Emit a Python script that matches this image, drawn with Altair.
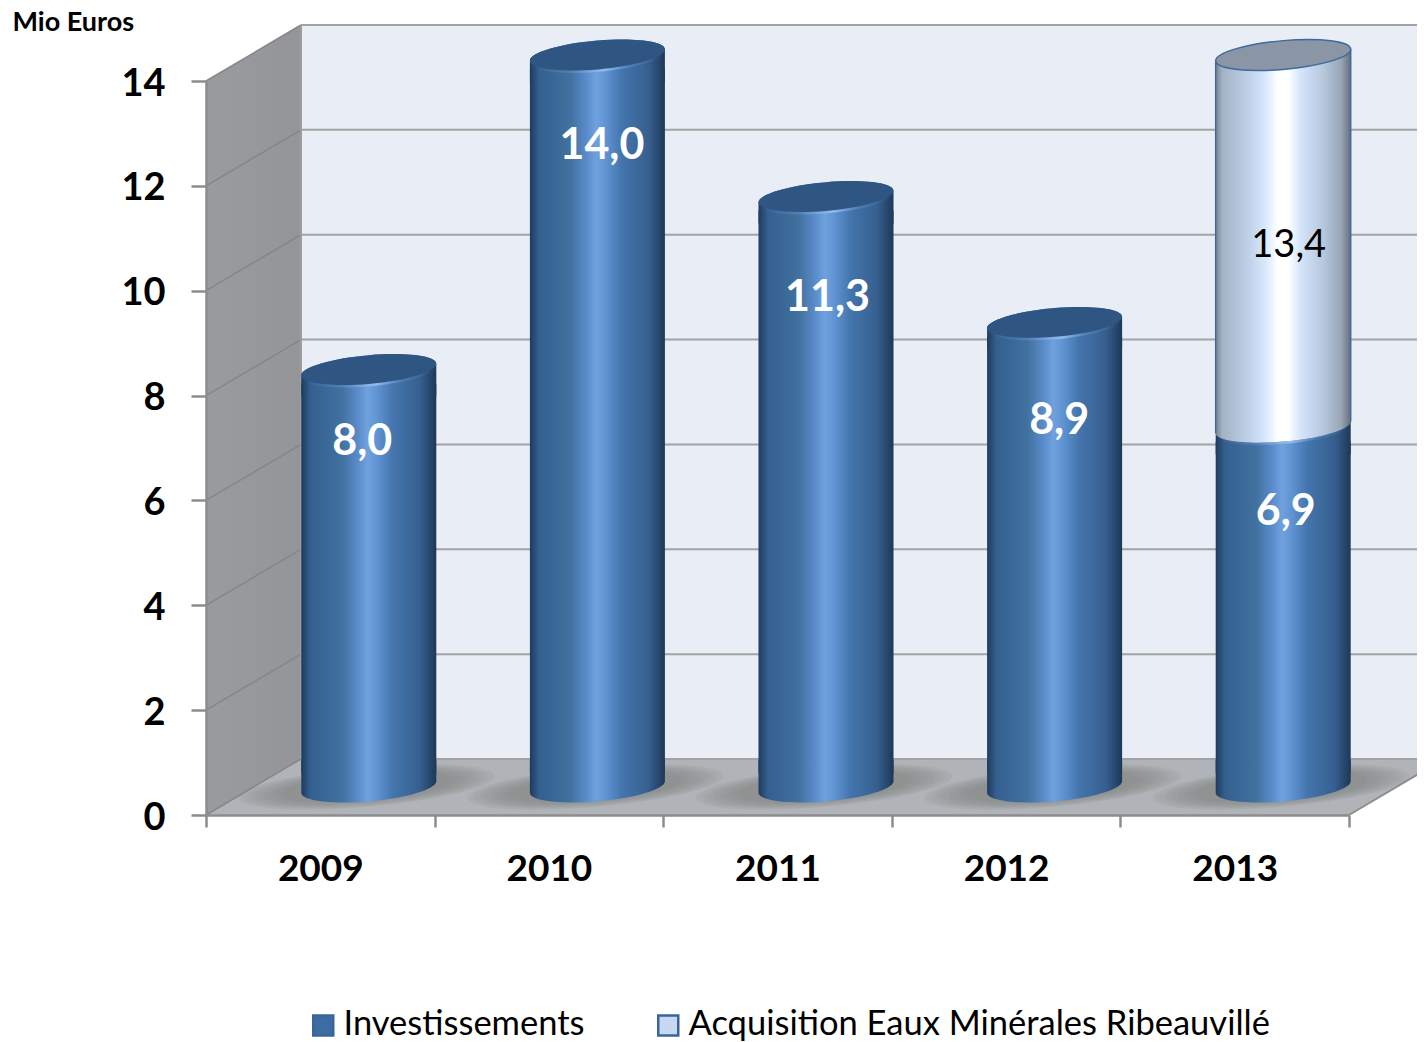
import altair as alt
import pandas as pd

# ---- data
years = ["2009", "2010", "2011", "2012", "2013"]
invest = [8.0, 14.0, 11.3, 8.9, 6.9]
acquis = [0, 0, 0, 0, 7.1]          # drawn height of the light section
label_texts = ["8,0", "14,0", "11,3", "8,9", "6,9", "13,4"]
label_years = ["2009", "2010", "2011", "2012", "2013", "2013"]
label_vals = [8.0, 14.0, 11.3, 8.9, 6.9, 14.0]
y_ticks = [0, 2, 4, 6, 8, 10, 12, 14]
series_names = ["Investissements", "Acquisition Eaux Minérales Ribeauvillé"]

# ---- styling / geometry constants
PW, PH = 1143, 734
FONT = "Lato"
STEP = PW / 5
DX = 95 / STEP                # wall depth, category units
DY = 56 / (PH / 14)           # wall depth, value units
XEND = 5 + 75 / STEP
CX, CY = 48.5, -26            # cylinder shift in pixels
R = 67.5                      # cylinder radius
EB, ES = 0.213, -0.085        # ellipse minor axis and shear
LBL_OFF = [(42, 46, "white", "bold"), (53, 65, "white", "bold"), (50, 75, "white", "bold"),
           (53, 73, "white", "bold"), (51, 59, "white", "bold"), (54, 165, "black", "normal")]
SHADOW_STEPS = [128, 122, 116, 110, 104, 98, 92, 86]   # half widths of the nested shadow ellipses

K = 0.5523


def m(u, v, b=EB, s=ES):
    return f"{u:.4f} {s * u + b * v:.4f}"


def ell_path(b=EB, s=ES):
    f = lambda u, v: m(u, v, b, s)
    return (f"M {f(1,0)} C {f(1,K)} {f(K,1)} {f(0,1)} C {f(-K,1)} {f(-1,K)} {f(-1,0)} "
            f"C {f(-1,-K)} {f(-K,-1)} {f(0,-1)} C {f(K,-1)} {f(1,-K)} {f(1,0)} Z")


CAP_H = 0.4
bottom_cap = (f"M {m(-1,0)} L -1 {-CAP_H} L 1 {-CAP_H} L {m(1,0)} "
              f"C {m(1,K)} {m(K,1)} {m(0,1)} C {m(-K,1)} {m(-1,K)} {m(-1,0)} Z")
top_cap = (f"M {m(-1,0)} C {m(-1,-K)} {m(-K,-1)} {m(0,-1)} C {m(K,-1)} {m(1,-K)} {m(1,0)} "
           f"L 1 {CAP_H} L -1 {CAP_H} Z")
SZ = (2 * R) ** 2


def grad(stops):
    return alt.Gradient(gradient="linear", x1=0, x2=1, y1=0, y2=0,
                        stops=[alt.GradientStop(offset=o, color=c) for o, c in stops])


BLUE = grad([(0, "#1f3b5e"), (0.07, "#34608f"), (0.3, "#41719f"), (0.42, "#5a8ccb"), (0.49, "#70a1de"),
             (0.56, "#6094d2"), (0.68, "#4475ad"), (0.88, "#365f8f"), (1, "#1d3858")])
LIGHT = grad([(0, "#78838f"), (0.05, "#a3b3c6"), (0.25, "#bfd2e9"), (0.37, "#d8e9ff"), (0.46, "#ffffff"),
              (0.54, "#ffffff"), (0.63, "#d4e4fb"), (0.8, "#b6c7dc"), (0.93, "#98a5b6"), (1, "#666f7b")])
RIM = grad([(0, "rgba(110,153,207,0)"), (0.3, "rgba(110,153,207,0.35)"), (0.55, "rgba(150,190,240,0.95)"),
            (0.75, "rgba(110,153,207,0.3)"), (1, "rgba(110,153,207,0)")])
WALL_GRAD = grad([(0, "#9a9b9e"), (1, "#949598")])

# ---- tables
cols = pd.DataFrame({"year": years, "inv": invest, "acq": acquis})
bars = pd.DataFrame(
    [{"year": y, "series": series_names[0], "y0": 0, "y1": v} for y, v in zip(years, invest)]
    + [{"year": y, "series": series_names[1], "y0": v, "y1": v + a}
       for y, v, a in zip(years, invest, acquis) if a > 0]
)
dark = bars[bars.series == series_names[0]]
light = bars[bars.series == series_names[1]]
grid = pd.DataFrame({"v": y_ticks})

Y_AXIS = alt.Axis(
    title="Mio Euros", titleAngle=0, titleX=-194, titleY=-59, titleAlign="left", titleBaseline="middle",
    titleFont=FONT, titleFontSize=27, titleFontWeight="bold", titleColor="black",
    values=y_ticks, grid=False, format="d", labelFont=FONT, labelFontSize=38, labelFontWeight="bold",
    labelColor="black", labelPadding=26, labelOffset=3, tickSize=15, tickWidth=2.5, tickColor="#8c8c8c",
    domainColor="#8c8c8c", domainWidth=2.5, zindex=1, labelFlush=False, labelOverlap=False)
Y_SCALE = alt.Scale(domain=[0, 14], nice=False, zero=False)
X_Q = lambda f="x": alt.X(f"{f}:Q", scale=alt.Scale(domain=[0, 5], nice=False, zero=False), axis=None)
Y_ANY = lambda f: alt.Y(f"{f}:Q", scale=Y_SCALE, axis=Y_AXIS)
X_N = alt.X("year:N", scale=alt.Scale(domain=years, paddingInner=0, paddingOuter=0), axis=None)

# walls
back = alt.Chart(pd.DataFrame({"x": [DX], "x2": [XEND], "a": [DY], "b": [14 + DY]})).mark_rect(color="#e9edf6").encode(
    x=X_Q(), x2="x2:Q", y=Y_ANY("a"), y2="b:Q")
side = alt.Chart(pd.DataFrame({"x": [0, DX], "lo": [0, DY], "hi": [14, 14 + DY]})).mark_area(
    fill=WALL_GRAD, opacity=1, line=False).encode(x=X_Q(), y=Y_ANY("lo"), y2="hi:Q")
floor = alt.Chart(pd.DataFrame({"x": [0, DX, 5, XEND],
                                "lo": [0, 0, 0, DY * (XEND - 5) / DX],
                                "hi": [0, DY, DY, DY]})).mark_area(color="#b0b3b7", opacity=1).encode(
    x=X_Q(), y=Y_ANY("lo"), y2="hi:Q")

g = grid.assign(x=DX, x2=XEND, w=grid.v + DY)
back_grid = alt.Chart(g).mark_rule(color="#a3a3a3", strokeWidth=2).encode(x=X_Q(), x2="x2:Q", y=Y_ANY("w"))
d = grid.assign(x=0, x2=DX, w=grid.v + DY)
side_grid = alt.Chart(d).mark_rule(color="#85868a", strokeWidth=1.5).encode(x=X_Q(), x2="x2:Q", y=Y_ANY("v"), y2="w:Q")
corner = alt.Chart(pd.DataFrame({"x": [DX], "lo": [DY], "hi": [14 + DY]})).mark_rule(color="#9d9d9d", strokeWidth=2).encode(
    x=X_Q(), y=Y_ANY("lo"), y2="hi:Q")
edge = alt.Chart(pd.DataFrame({"x": [5], "x2": [XEND], "lo": [0], "hi": [DY * (XEND - 5) / DX]})).mark_rule(
    color="#8c8c8c", strokeWidth=2).encode(x=X_Q(), x2="x2:Q", y=Y_ANY("lo"), y2="hi:Q")

# x axis carrier
x_axis = alt.Chart(cols).mark_bar(width=1, opacity=0).encode(
    x=alt.X("year:N", scale=alt.Scale(domain=years, paddingInner=0, paddingOuter=0), axis=alt.Axis(
        title=None, labelAngle=0, tickBand="extent", labelFont=FONT, labelFontSize=37, labelFontWeight="bold",
        labelColor="black", labelPadding=24, tickSize=12, tickWidth=2.5, tickColor="#8c8c8c",
        domainColor="#8c8c8c", domainWidth=2.5, zindex=1)),
    y=Y_ANY("y0"), y2="y0:Q",
).transform_calculate(y0="0")

# floor shadows: nested translucent ellipses give a soft falloff
shadows = [
    alt.Chart(cols).mark_point(shape=ell_path(0.155, -0.085), size=(2 * a) ** 2, filled=True, fill="#7d8184",
                               opacity=0.11, strokeWidth=0, xOffset=CX - 2, yOffset=-28).encode(
        x=X_N, y=Y_ANY("base")).transform_calculate(base="0")
    for a in SHADOW_STEPS
]

# solid bars: carry the colour legend
solid = alt.Chart(bars).mark_bar(width=2 * R - 4, xOffset=CX, yOffset=CY + 10, y2Offset=CY - 10).encode(
    x=X_N, y=Y_ANY("y1"), y2="y0:Q",
    color=alt.Color("series:N", scale=alt.Scale(domain=series_names, range=["#3d6ca3", "#c6d9f1"]),
                    legend=alt.Legend(title=None, orient="none", legendX=100, legendY=927, direction="horizontal",
                                      symbolType="square", symbolSize=400, symbolStrokeWidth=2.5,
                                      symbolStrokeColor="#3a659a", labelFont=FONT, labelFontSize=34.5,
                                      labelColor="black", labelOffset=3, columnPadding=66, labelLimit=800)),
)


def cylinder(df, fill, face, edge_col=None):
    ys, yb = Y_ANY("y1"), Y_ANY("y0")
    base = alt.Chart(df)
    body = base.mark_bar(width=2 * R, fill=fill, xOffset=CX, yOffset=CY + 14, y2Offset=CY - 16).encode(
        x=X_N, y=ys, y2="y0:Q")
    pt = dict(filled=True, opacity=1, xOffset=CX, size=SZ)
    # the cap of a section resting on the floor sits 2px higher, matching the reference
    bcap_off = CY - 2 if edge_col is None else CY
    bcap = base.mark_point(shape=bottom_cap, fill=fill, strokeWidth=0, yOffset=bcap_off, **pt).encode(x=X_N, y=yb)
    tcap = base.mark_point(shape=top_cap, fill=fill, strokeWidth=0, yOffset=CY, **pt).encode(x=X_N, y=ys)
    out = [body, bcap, tcap]
    if edge_col:
        shift = -ES * R
        for side_sign in (-1, 1):
            out.append(base.mark_rule(color=edge_col, strokeWidth=1.5, xOffset=CX + side_sign * R,
                                      yOffset=CY - side_sign * shift, y2Offset=CY - side_sign * shift).encode(
                x=X_N, y=ys, y2="y0:Q"))
    else:
        out.append(base.mark_point(shape=ell_path(), fill=RIM, strokeWidth=0, yOffset=CY + 2.5, **pt).encode(x=X_N, y=ys))
    face_kw = {"stroke": edge_col, "strokeWidth": 1.5} if edge_col else {"strokeWidth": 0}
    out.append(base.mark_point(shape=ell_path(), fill=face, yOffset=CY, **pt, **face_kw).encode(x=X_N, y=ys))
    return out


dark_layers = cylinder(dark, BLUE, "#2f5682")
light_layers = cylinder(light, LIGHT, "#8a96a6", edge_col="#3f6a9b")

# value labels
labels = []
for t, y, v, (dx, dy, col, wt) in zip(label_texts, label_years, label_vals, LBL_OFF):
    labels.append(
        alt.Chart(pd.DataFrame({"year": [y], "v": [v], "t": [t]})).mark_text(
            dx=dx, dy=dy, font=FONT, fontSize=43 if wt == "bold" else 38, fontWeight=wt, color=col, baseline="middle"
        ).encode(x=X_N, y=Y_ANY("v"), text="t:N")
    )

chart = alt.layer(
    back, side, floor, back_grid, side_grid, corner, edge, x_axis, *shadows, solid,
    *dark_layers, *light_layers, *labels,
).resolve_scale(x="independent").properties(
    width=PW, height=PH,
    autosize=alt.AutoSizeParams(type="none"),
    padding={"left": 198, "top": 73, "right": 68, "bottom": 227},
).configure_view(stroke=None).configure_axis(labelLimit=500)

chart.save("out.html", embed_options={"renderer": "svg", "actions": False})
